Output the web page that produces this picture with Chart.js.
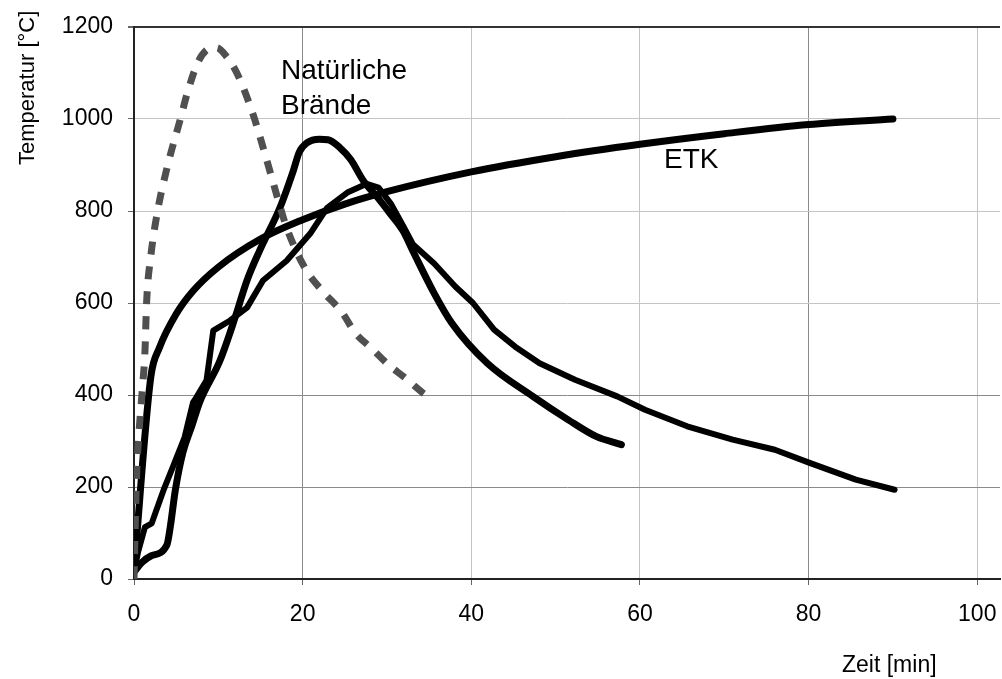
<!DOCTYPE html>
<html>
<head>
<meta charset="utf-8">
<script src="https://cdn.jsdelivr.net/npm/chart.js@4.4.1/dist/chart.umd.min.js"></script>
<style>
  html, body { margin: 0; padding: 0; background: #ffffff; }
  #wrap { width: 1002px; height: 679px; position: relative; }
</style>
</head>
<body>
<div id="wrap"><canvas id="c" width="1002" height="679"></canvas></div>
<script>
// ---- Data ----
const xTicks = [0, 20, 40, 60, 80, 100];
const yTicks = [0, 200, 400, 600, 800, 1000, 1200];

// ETK (Einheits-Temperaturzeitkurve)
const etkTime = [0, 2, 3, 5, 7, 10, 15, 20, 25, 30, 40, 50, 60, 70, 80, 90];
const etkTemp = [20, 440, 502, 576, 626, 678, 739, 781, 815, 842, 885, 918, 945, 968, 988, 1000];

// Natürlicher Brand (gestrichelt)
const natTime = [0, 0.3, 0.6, 1.0, 1.3, 1.5, 2.0, 2.8, 4.0, 5.5, 6.3, 7.5, 8.5, 9.8, 11.0, 12.2, 14.1, 15.8, 17.0, 18.1, 20.3, 22.3, 24.7, 26.2, 28.2, 30.1, 32.1, 34.3, 35.0];
const natTemp = [0, 222, 320, 415, 495, 603, 703, 800, 900, 1000, 1055, 1120, 1148, 1155, 1135, 1100, 1011, 907, 830, 764, 675, 627, 579, 536, 501, 467, 438, 404, 395];

// Brand A (Spitze ca. 955 °C, Ende bei 58 min)
const brandATime = [0, 1, 2, 3.9, 4.3, 4.9, 5.8, 6.9, 7.8, 10.2, 12.0, 13.4, 14.9, 17.3, 18.9, 19.6, 20.5, 22.0, 23.0, 24.4, 25.7, 27.2, 28.9, 30.4, 31.9, 33.1, 35.6, 37.7, 41.9, 47.3, 51.5, 54.8, 57.8];
const brandATemp = [15, 37, 50, 74, 113, 193, 275, 335, 385, 475, 569, 649, 714, 807, 888, 928, 948, 956, 955, 938, 912, 866, 829, 794, 757, 712, 621, 556, 469, 397, 346, 310, 292];

// Brand B (Spitze ca. 855 °C, Ende bei 90 min)
const brandBTime = [0, 0.5, 1.3, 2.1, 3.5, 4.6, 6.0, 7.0, 7.4, 8.6, 9.4, 11.4, 13.4, 15.3, 18.1, 20.9, 22.9, 25.3, 27.6, 29.0, 30.5, 32.0, 33.1, 35.6, 38.1, 40.2, 42.7, 45.2, 48.1, 52.3, 57.3, 60.6, 65.6, 71.0, 76.0, 80.2, 85.6, 90.2];
const brandBTemp = [15, 60, 113, 121, 193, 243, 308, 384, 395, 432, 540, 562, 590, 649, 692, 751, 807, 840, 859, 851, 815, 765, 727, 686, 636, 600, 542, 505, 469, 433, 397, 368, 332, 303, 281, 252, 216, 194];

function pts(xs, ys) { return xs.map((x, i) => ({ x: x, y: ys[i] })); }

const FONT = "'Liberation Sans', Arial, Helvetica, sans-serif";

const textPlugin = {
  id: 'texts',
  afterDraw(chart) {
    const ctx = chart.ctx;
    ctx.save();
    ctx.fillStyle = '#000';
    ctx.textBaseline = 'alphabetic';
    ctx.textAlign = 'left';
    ctx.font = '28px ' + FONT;
    ctx.fillText('Natürliche', 281, 79);
    ctx.fillText('Brände', 281, 114);
    ctx.fillText('ETK', 664, 168);
    ctx.font = '23px ' + FONT;
    ctx.fillText('Zeit [min]', 842, 672);
    ctx.font = '22px ' + FONT;
    ctx.translate(34, 165);
    ctx.rotate(-Math.PI / 2);
    ctx.fillText('Temperatur [°C]', 0, 0);
    ctx.restore();
  }
};

new Chart(document.getElementById('c'), {
  type: 'line',
  data: {
    datasets: [
      {
        label: 'Natürliche Brände',
        data: pts(natTime, natTemp),
        borderColor: '#505050',
        borderWidth: 7,
        borderDash: [13, 12],
        borderCapStyle: 'butt',
        pointRadius: 0,
        cubicInterpolationMode: 'monotone',
        fill: false
      },
      {
        label: 'Brand A',
        data: pts(brandATime, brandATemp),
        borderColor: '#000',
        borderWidth: 7,
        borderCapStyle: 'round',
        borderJoinStyle: 'round',
        pointRadius: 0,
        cubicInterpolationMode: 'monotone',
        fill: false
      },
      {
        label: 'Brand B',
        data: pts(brandBTime, brandBTemp),
        borderColor: '#000',
        borderWidth: 6,
        borderCapStyle: 'round',
        borderJoinStyle: 'round',
        pointRadius: 0,
        tension: 0,
        fill: false
      },
      {
        label: 'ETK',
        data: pts(etkTime, etkTemp),
        borderColor: '#000',
        borderWidth: 7,
        borderCapStyle: 'round',
        borderJoinStyle: 'round',
        pointRadius: 0,
        cubicInterpolationMode: 'monotone',
        fill: false
      }
    ]
  },
  options: {
    responsive: false,
    animation: false,
    devicePixelRatio: 1,
    layout: { padding: { top: 27, right: 2, left: 0, bottom: 0 } },
    plugins: {
      legend: { display: false },
      tooltip: { enabled: false },
      title: { display: false }
    },
    scales: {
      x: {
        type: 'linear',
        min: 0,
        max: 102.7,
        afterBuildTicks(scale) {
          scale.ticks = xTicks.map(v => ({ value: v }));
        },
        afterFit(scale) {
          scale.height = 100;
          scale.paddingLeft = 0;
          scale.paddingRight = 0;
        },
        ticks: {
          color: '#000',
          font: { family: FONT, size: 23 },
          padding: 16,
          maxRotation: 0,
          callback: v => String(v)
        },
        grid: {
          color: ctx => {
            const v = ctx.tick ? ctx.tick.value : null;
            if (v === 20 || v === 80) return '#8a8a8a';
            return '#c4c4c4';
          },
          tickColor: '#666',
          tickLength: 6,
          lineWidth: 1
        },
        border: { display: true, color: '#222', width: 2 }
      },
      y: {
        type: 'linear',
        min: 0,
        max: 1200,
        afterBuildTicks(scale) {
          scale.ticks = yTicks.map(v => ({ value: v }));
        },
        afterFit(scale) {
          scale.width = 134;
          scale.paddingTop = 0;
          scale.paddingBottom = 0;
        },
        ticks: {
          color: '#000',
          font: { family: FONT, size: 23 },
          padding: 15,
          callback: v => String(v)
        },
        grid: {
          color: ctx => {
            const v = ctx.tick ? ctx.tick.value : null;
            if (v === 1200) return '#333';
            if (v === 200 || v === 400) return '#8a8a8a';
            return '#c4c4c4';
          },
          lineWidth: ctx => (ctx.tick && ctx.tick.value === 1200 ? 2 : 1),
          tickColor: '#666',
          tickLength: 6
        },
        border: { display: true, color: '#222', width: 2 }
      }
    }
  },
  plugins: [textPlugin]
});
</script>
</body>
</html>
